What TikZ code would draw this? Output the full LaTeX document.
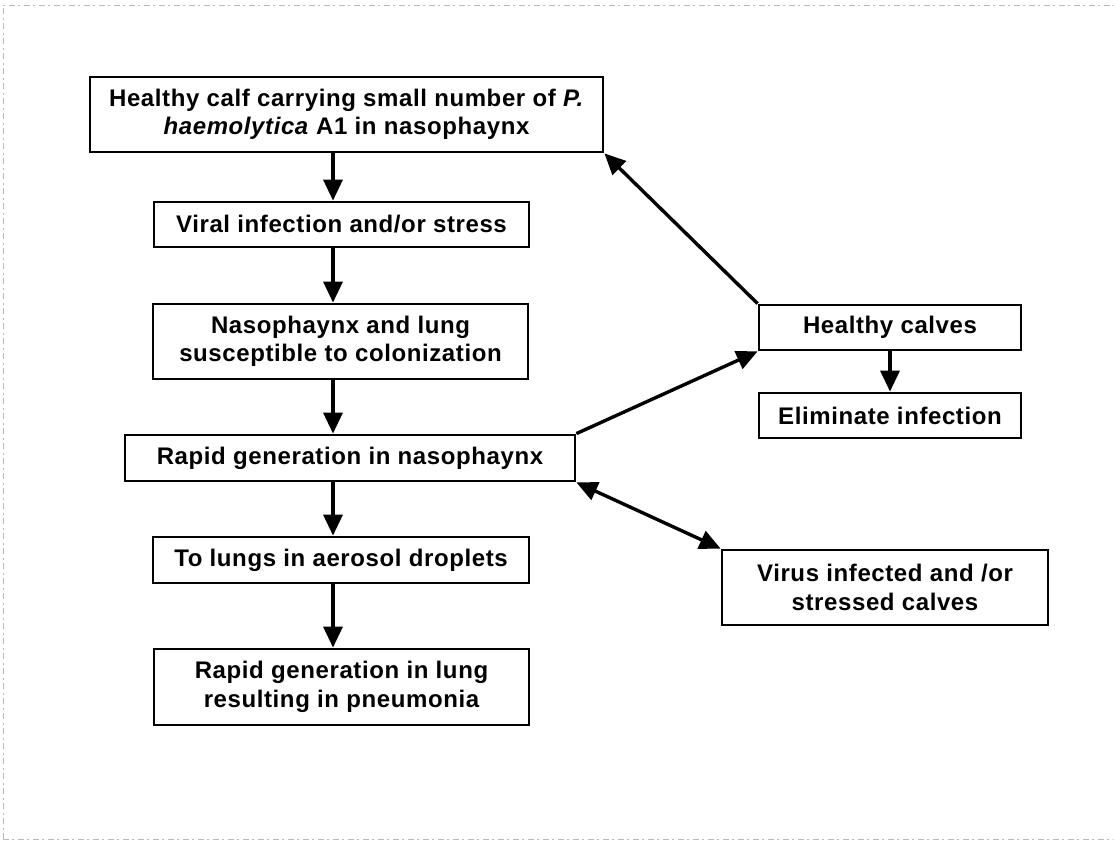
\documentclass[tikz,border=0pt]{standalone}
\usepackage{fontspec}
\setmainfont{Liberation Sans}[LetterSpace=2.5]
\usetikzlibrary{arrows.meta}
\begin{document}
\begin{tikzpicture}[x=1pt,y=-1pt,
  box/.style={draw=black, line width=2.8pt, rectangle, inner sep=0pt, align=center,
    font=\fontsize{24}{28.5}\selectfont\bfseries},
  arr/.style={line width=3.4pt, -{Triangle[length=21pt,width=19pt]}},
  darr/.style={line width=3.4pt, {Triangle[length=21pt,width=19pt]}-{Triangle[length=21pt,width=19pt]}},
  scan/.style={draw=gray!55, line width=0.8pt, dash pattern=on 6pt off 3pt on 2pt off 4pt}]
\useasboundingbox (0,0) rectangle (1114,842);
\fill[white] (0,0) rectangle (1114,842);
\draw[scan] (3,839) -- (3,5) -- (1114,5);
\draw[scan] (3,839) -- (1114,839);

\node[box, minimum width=513pt, minimum height=75pt] (b1) at (346.5,114.5)
  {Healthy calf carrying small number of \textit{P.}\\\textit{haemolytica} A1 in nasophaynx};
\node[box, minimum width=375pt, minimum height=45pt] (b2) at (341.5,224.5)
  {Viral infection and/or stress};
\node[box, minimum width=375pt, minimum height=75pt] (b3) at (340.5,341.5)
  {Nasophaynx and lung\\susceptible to colonization};
\node[box, minimum width=450pt, minimum height=46pt] (b4) at (350,458)
  {Rapid generation in nasophaynx};
\node[box, minimum width=376pt, minimum height=46pt] (b5) at (341,560)
  {To lungs in aerosol droplets};
\node[box, minimum width=375pt, minimum height=76pt] (b6) at (341.5,687)
  {Rapid generation in lung\\resulting in pneumonia};
\node[box, minimum width=262pt, minimum height=45pt] (b7) at (890,327.5)
  {Healthy calves};
\node[box, minimum width=262pt, minimum height=45pt] (b8) at (890,415.5)
  {Eliminate infection};
\node[box, minimum width=326pt, minimum height=75pt] (b9) at (885,587.5)
  {Virus infected and /or\\stressed calves};

\coordinate (cx) at (333,0);
\draw[arr] (b1.south -| cx) -- (b2.north -| cx);
\draw[arr] (b2.south -| cx) -- (b3.north -| cx);
\draw[arr] (b3.south -| cx) -- (b4.north -| cx);
\draw[arr] (b4.south -| cx) -- (b5.north -| cx);
\draw[arr] (b5.south -| cx) -- (b6.north -| cx);
\draw[arr] (b7.north west) -- (b1.south east);
\draw[arr] (b4.north east) -- (b7.south west);
\draw[arr] (b7.south) -- (b8.north);
\draw[darr] (b4.south east) -- (b9.north west);
\end{tikzpicture}
\end{document}
